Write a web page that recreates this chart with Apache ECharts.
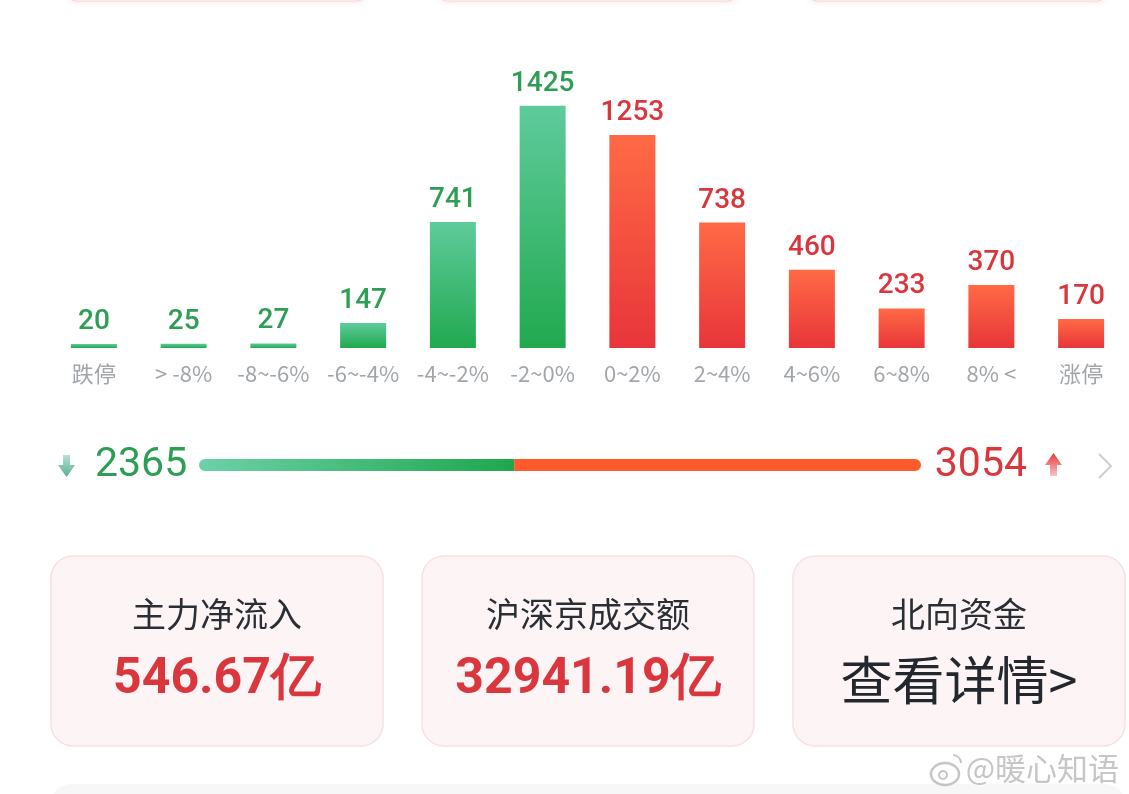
<!DOCTYPE html>
<html>
<head>
<meta charset="utf-8">
<script src="https://cdn.jsdelivr.net/npm/echarts@6/dist/echarts.min.js"></script>
<style>
  html, body { margin: 0; padding: 0; background: #fff; }
  #main { width: 1129px; height: 794px; }
</style>
</head>
<body>
<div id="main"></div>
<script>
// 涨跌分布
var categories = ['跌停', '> -8%', '-8~-6%', '-6~-4%', '-4~-2%', '-2~0%', '0~2%', '2~4%', '4~6%', '6~8%', '8% <', '涨停'];
var counts = [20, 25, 27, 147, 741, 1425, 1253, 738, 460, 233, 370, 170];
var fallCount = 2365;
var riseCount = 3054;
var cardTitles = ['主力净流入', '沪深京成交额', '北向资金'];
var cardValues = ['546.67亿', '32941.19亿', '查看详情>'];

var GREEN = '#2e9e55';
var RED = '#d9373d';
var numFont = 'Roboto, "Noto Sans", sans-serif';
var cnFont = '"Noto Sans CJK SC", "Noto Sans", sans-serif';

function greenFill() {
  return new echarts.graphic.LinearGradient(0, 0, 0, 1, [
    { offset: 0, color: '#5fcb9c' }, { offset: 1, color: '#21a94f' }
  ]);
}
function redFill() {
  return new echarts.graphic.LinearGradient(0, 0, 0, 1, [
    { offset: 0, color: '#ff6a45' }, { offset: 1, color: '#e8353a' }
  ]);
}

var barData = counts.map(function (v, i) {
  var down = i < 6;
  return {
    value: v,
    itemStyle: { color: down ? greenFill() : redFill() },
    label: { color: down ? GREEN : RED }
  };
});

// cards
var cardX = [51, 422, 793];
var graphics = [];
// bottoms of the cards above, cut off at the top edge
[68, 439, 809].forEach(function (x) {
  graphics.push({
    type: 'rect', shape: { x: x, y: -20, width: 297, height: 21, r: 8 },
    style: { fill: '#fff', stroke: '#f3d6d8', lineWidth: 1, shadowBlur: 6, shadowColor: 'rgba(230,150,150,0.25)' }
  });
});
cardX.forEach(function (x, i) {
  graphics.push({
    type: 'rect', shape: { x: x, y: 556, width: 332, height: 190, r: 22 },
    style: { fill: '#fdf5f5', stroke: '#f6e2e2', lineWidth: 1.5 }
  });
  graphics.push({
    type: 'text', x: x + 166, y: 614,
    style: { text: cardTitles[i], fill: '#2a2e35', font: '34px ' + cnFont, align: 'center', verticalAlign: 'middle' }
  });
  graphics.push({
    type: 'text', x: x + 166, y: 680,
    style: {
      text: cardValues[i], fill: i < 2 ? RED : '#23272e',
      font: (i < 2 ? 'bold 50px ' + numFont : '52px ' + cnFont),
      align: 'center', verticalAlign: 'middle'
    }
  });
});
// bottom card partially visible
graphics.push({
  type: 'rect', shape: { x: 51, y: 784, width: 1074, height: 40, r: 20 },
  style: { fill: '#f7f7f7' }
});

// counts beside the ratio bar
graphics.push({
  type: 'text', x: 95, y: 466,
  style: { text: String(fallCount), fill: GREEN, font: '41px ' + numFont, verticalAlign: 'middle' }
});
graphics.push({
  type: 'text', x: 1027, y: 466,
  style: { text: String(riseCount), fill: RED, font: '41px ' + numFont, align: 'right', verticalAlign: 'middle' }
});
// down arrow
graphics.push({
  type: 'polygon',
  shape: { points: [[63, 455], [70, 455], [70, 465], [75, 465], [66.5, 477], [58, 465], [63, 465]] },
  style: { fill: new echarts.graphic.LinearGradient(0, 0, 0, 1, [
    { offset: 0, color: '#b4e2d2' }, { offset: 1, color: '#55ae95' }]) }
});
// up arrow
graphics.push({
  type: 'polygon',
  shape: { points: [[1053.5, 453], [1062, 465], [1057, 465], [1057, 476], [1050, 476], [1050, 465], [1045, 465]] },
  style: { fill: new echarts.graphic.LinearGradient(0, 0, 0, 1, [
    { offset: 0, color: '#e4393f' }, { offset: 1, color: '#f8c4c4' }]) }
});
// chevron
graphics.push({
  type: 'polyline',
  shape: { points: [[1099, 454], [1111, 466], [1099, 478]] },
  style: { stroke: '#d0d0d0', lineWidth: 2, fill: null }
});
// watermark
graphics.push({
  type: 'text', x: 1119, y: 768,
  style: { text: '@暖心知语', fill: 'rgba(160,160,160,0.6)', font: '31px ' + cnFont, align: 'right', verticalAlign: 'middle',
    stroke: 'rgba(255,255,255,0.9)', lineWidth: 2 }
});
graphics.push({
  type: 'ellipse', shape: { cx: 945, cy: 774, rx: 14, ry: 11 },
  style: { fill: 'none', stroke: 'rgba(160,160,160,0.6)', lineWidth: 2.5 }
});
graphics.push({
  type: 'circle', shape: { cx: 943, cy: 775, r: 4 },
  style: { fill: 'none', stroke: 'rgba(160,160,160,0.6)', lineWidth: 2 }
});
graphics.push({
  type: 'arc', shape: { cx: 953, cy: 763, r: 8, startAngle: -Math.PI / 2, endAngle: 0 },
  style: { fill: 'none', stroke: 'rgba(160,160,160,0.6)', lineWidth: 2 }
});

var chart = echarts.init(document.getElementById('main'), null, { renderer: 'canvas' });
chart.setOption({
  backgroundColor: '#ffffff',
  animation: false,
  grid: [
    { left: 49, right: 3, top: 93, bottom: 446 },
    { left: 199, right: 208, top: 459, height: 12 }
  ],
  xAxis: [
    {
      gridIndex: 0, type: 'category', data: categories,
      axisLine: { show: false }, axisTick: { show: false },
      axisLabel: { color: '#a2a6ab', fontSize: 22, margin: 15, fontFamily: cnFont, interval: 0 }
    },
    { gridIndex: 1, type: 'value', min: 0, max: fallCount + riseCount, show: false }
  ],
  yAxis: [
    { gridIndex: 0, type: 'value', min: 0, max: 1500, show: false },
    { gridIndex: 1, type: 'category', data: ['ratio'], show: false }
  ],
  series: [
    {
      type: 'bar', xAxisIndex: 0, yAxisIndex: 0,
      data: barData, barWidth: 46, barMinHeight: 4,
      label: { show: true, position: 'top', distance: 8, fontSize: 28, fontWeight: 500, fontFamily: numFont }
    },
    {
      type: 'bar', xAxisIndex: 1, yAxisIndex: 1, stack: 'ratio', barWidth: 12,
      data: [fallCount],
      itemStyle: {
        borderRadius: [6, 0, 0, 6],
        color: new echarts.graphic.LinearGradient(0, 0, 1, 0, [
          { offset: 0, color: '#6dd0a9' }, { offset: 1, color: '#1fa74d' }])
      }
    },
    {
      type: 'bar', xAxisIndex: 1, yAxisIndex: 1, stack: 'ratio', barWidth: 12,
      data: [riseCount],
      itemStyle: { borderRadius: [0, 6, 6, 0], color: '#ff5a2b', borderColor: '#ffffff', borderWidth: 0 }
    }
  ],
  graphic: graphics
});
</script>
</body>
</html>
